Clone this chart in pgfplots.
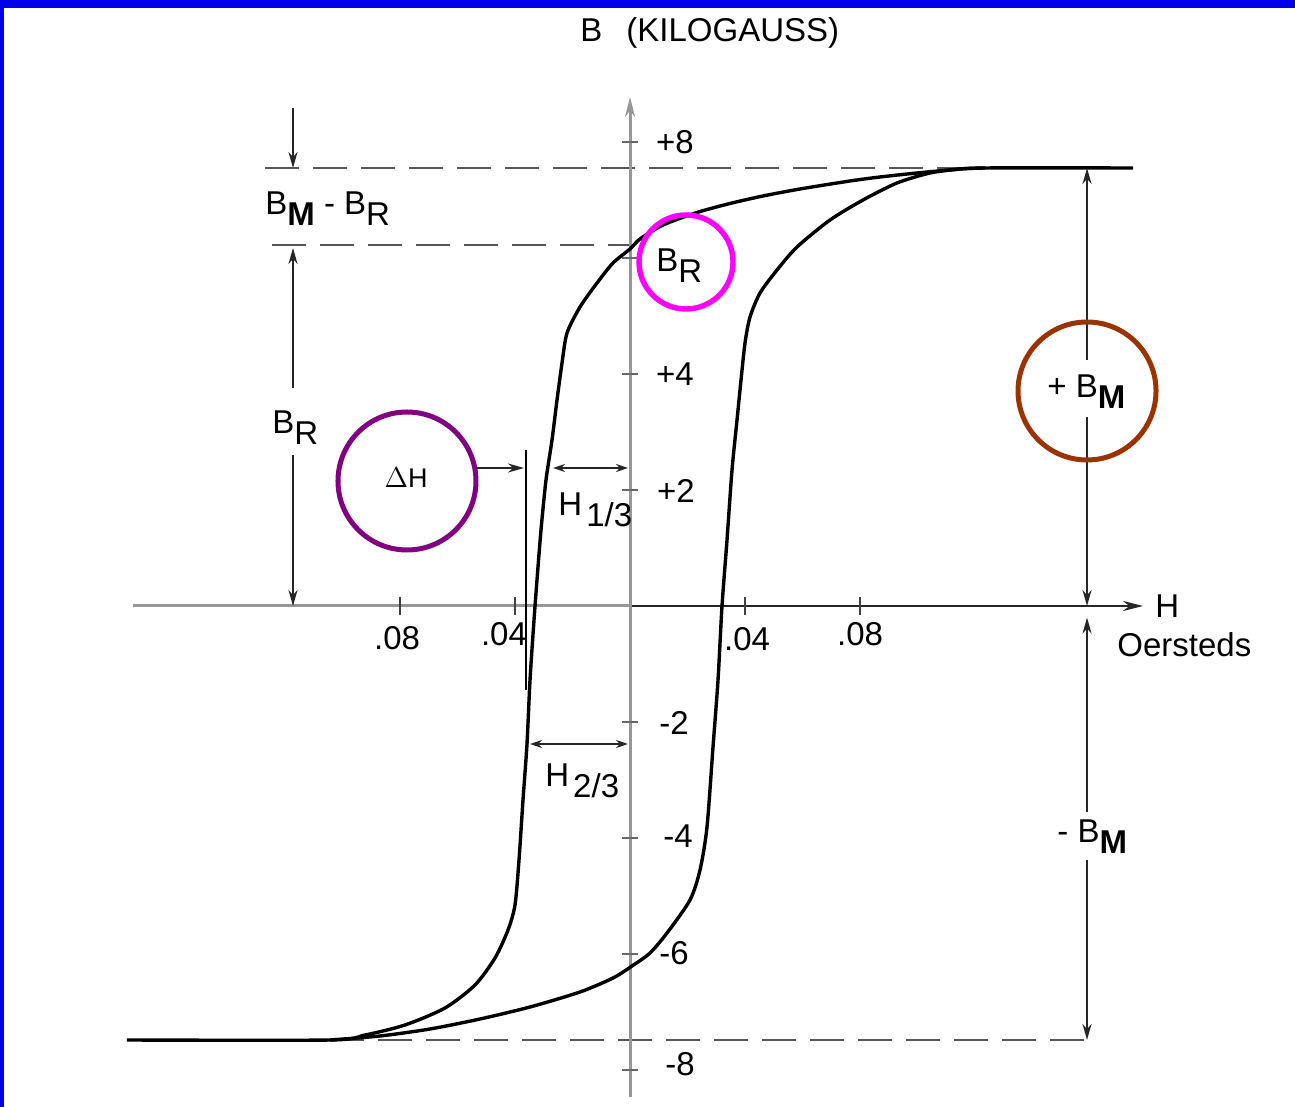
\documentclass[border=0pt]{standalone}
\usepackage{pgfplots}
\pgfplotsset{compat=1.18}
\usepackage{fontspec}
\setmainfont{Liberation Sans}
\usetikzlibrary{arrows.meta}

\definecolor{frameblue}{RGB}{0,0,235}
\definecolor{ringbrown}{RGB}{153,51,0}
\definecolor{ringpurple}{RGB}{128,0,128}
\definecolor{ringmagenta}{RGB}{255,0,255}
\definecolor{axisgray}{RGB}{150,150,150}
\definecolor{dashgray}{RGB}{85,85,85}

% lowered subscript at nearly full size, as in the drawing's lettering
\newcommand\lo[1]{\raisebox{-5.5pt}{#1}}

\begin{document}
\begin{tikzpicture}[
  dim/.style={line width=1.1pt, black!85},
  tip/.style={-{Stealth[length=8pt,width=4.5pt]}},
  tipb/.style={{Stealth[length=6pt,width=4pt]}-{Stealth[length=6pt,width=4pt]}},
  lbl/.style={font=\fontsize{16.5}{18}\selectfont, inner sep=0pt},
  dashln/.style={dashgray, line width=1.3pt, dash pattern=on 17pt off 7pt},
]
\begin{axis}[
  scale only axis, width=647.5pt, height=553.5pt,
  xmin=-0.21913, xmax=0.23130, ymin=-8.6379, ymax=10.4483,
  hide axis, clip=false,
]
% invisible box fixing the page to the plot area
\path (rel axis cs:0,0) rectangle (rel axis cs:1,1);
% blue bands along the top and left edges
\fill[frameblue] ([yshift=-4pt]rel axis cs:0,1) rectangle (rel axis cs:1,1);
\fill[frameblue] (rel axis cs:0,0) rectangle ([xshift=2pt]rel axis cs:0,1);

% dashed reference levels: +B_M, B_R, -B_M
\draw[dashln] (axis cs:-0.12696,7.5517) -- (axis cs:0.1200,7.5517);
\draw[dashln] (axis cs:-0.12452,6.2241) -- (axis cs:0,6.2241);
\draw[dashln] (axis cs:-0.10435,-7.4828) -- (axis cs:0.16174,-7.4828);

% H axis
\draw[axisgray, line width=1.5pt] (axis cs:-0.17287,0) -- (axis cs:0,0);
\draw[black!85, line width=1.2pt, -{Stealth[length=10pt,width=5pt]}] (axis cs:0,0) -- (axis cs:0.17843,0);
% B axis
\draw[axisgray, line width=1.5pt, -{Stealth[length=10pt,width=5pt]}] (axis cs:0,-8.4655) -- (axis cs:0,8.7759);

% B ticks
\pgfplotsinvokeforeach{8,6,4,2,-2,-4,-6,-8}{
  \draw[black!60, line width=1.4pt] (axis cs:-0.00278,#1) -- (axis cs:0.00278,#1);
}
% H ticks
\pgfplotsinvokeforeach{-0.08,-0.04,0.04,0.08}{
  \draw[black!75, line width=1.2pt] (axis cs:#1,0.155) -- (axis cs:#1,-0.155);
}

% tick labels
\node[lbl] at (axis cs:0.01565,8.0) {+8};
\node[lbl] at (axis cs:0.01565,4.0) {+4};
\node[lbl] at (axis cs:0.0160,1.9828) {+2};
\node[lbl] at (axis cs:0.0153,-2.0172) {-2};
\node[lbl] at (axis cs:0.0167,-3.9655) {-4};
\node[lbl] at (axis cs:0.0153,-5.9828) {-6};
\node[lbl] at (axis cs:0.0174,-7.8966) {-8};
\node[lbl] at (axis cs:-0.08104,-0.5517) {.08};
\node[lbl] at (axis cs:-0.04383,-0.4828) {.04};
\node[lbl] at (axis cs:0.0407,-0.5690) {.04};
\node[lbl] at (axis cs:0.0800,-0.4828) {.08};

% hysteresis loop: descending branch
\addplot[black, line width=1.7pt, smooth, tension=0.45] coordinates {
  (0.17496,7.5517) (0.12348,7.5517) (0.11130,7.5172) (0.09983,7.4655)
  (0.08696,7.3966) (0.07652,7.3276) (0.05913,7.1897) (0.04626,7.0690)
  (0.03478,6.9397) (0.02330,6.7845) (0.01148,6.5690) (0.00348,6.3276)
  (0,6.1552) (-0.00591,5.9138) (-0.01148,5.5690) (-0.01739,5.1552)
  (-0.02191,4.7069) (-0.02365,4.1897) (-0.02539,3.5517) (-0.02713,2.8621)
  (-0.02922,2.1724) (-0.03096,1.3103) (-0.03235,0.4483) (-0.03339,-0.2414)
  (-0.03478,-1.2759) (-0.03583,-2.3793) (-0.03722,-3.3448) (-0.03861,-4.3793)
  (-0.04000,-5.1552) (-0.04243,-5.5862) (-0.04696,-6.0690) (-0.05391,-6.5345)
  (-0.06435,-6.9310) (-0.07826,-7.2241) (-0.09217,-7.3966) (-0.10435,-7.4828)
  (-0.17496,-7.4828)
};
% ascending branch
\addplot[black, line width=1.7pt, smooth, tension=0.45] coordinates {
  (-0.10435,-7.4828) (-0.08696,-7.4138) (-0.06957,-7.2931) (-0.05217,-7.1207)
  (-0.03478,-6.9138) (-0.01739,-6.6552) (-0.00591,-6.4138) (0.00070,-6.2069)
  (0.00696,-5.9828) (0.01287,-5.6379) (0.02087,-5.0690) (0.02435,-4.5517)
  (0.02678,-3.8103) (0.02887,-2.4310) (0.03061,-1.2759) (0.03200,0)
  (0.03374,1.1379) (0.03548,2.3448) (0.03722,3.2069) (0.03861,3.8966)
  (0.04000,4.5345) (0.04174,4.9828) (0.04522,5.3966) (0.05113,5.7931)
  (0.05809,6.1897) (0.06957,6.6552) (0.08104,7.0000) (0.09287,7.2931)
  (0.10435,7.4655) (0.11478,7.5345) (0.12348,7.5517)
};

% left dimensions: B_M - B_R and B_R
\draw[dim, tip] (axis cs:-0.11722,8.5862) -- (axis cs:-0.11722,7.5517);
\draw[dim, tip] (axis cs:-0.11722,3.7586) -- (axis cs:-0.11722,6.1724);
\draw[dim, tip] (axis cs:-0.11722,2.6034) -- (axis cs:-0.11722,0);

% right dimension: +B_M and -B_M
\draw[dim, {Stealth[length=8pt,width=4.5pt]}-] (axis cs:0.15896,7.5517) -- (axis cs:0.15896,4.2414);
\draw[dim, tip] (axis cs:0.15896,3.2586) -- (axis cs:0.15896,0);
\draw[dim, tip] (axis cs:0.15896,-3.5517) -- (axis cs:0.15896,-0.20);
\draw[dim, tip] (axis cs:0.15896,-4.3793) -- (axis cs:0.15896,-7.4828);

% coercive-force markers
\draw[black, line width=1.3pt] (axis cs:-0.03617,2.6897) -- (axis cs:-0.03617,-1.4483);
\draw[dim, tip] (axis cs:-0.05357,2.3793) -- (axis cs:-0.03687,2.3793);
\draw[dim, tipb] (axis cs:-0.02678,2.3793) -- (axis cs:-0.0007,2.3793);
\draw[dim, tipb] (axis cs:-0.03478,-2.3793) -- (axis cs:-0.0007,-2.3793);

% rings
\draw[ringbrown, line width=2.5pt] (axis cs:0.15896,3.7069) circle[radius=34.5pt];
\draw[ringpurple, line width=2.5pt] (axis cs:-0.07757,2.1552) circle[radius=34.5pt];
\draw[ringmagenta, line width=2.7pt] (axis cs:0.01948,5.9310) circle[radius=23.5pt];

% labels
\node[lbl, anchor=base west] at (axis cs:-0.01739,9.7241) {B\hspace{12pt}(KILOGAUSS)};
\node[lbl, anchor=base west] at (axis cs:-0.12696,6.7414) {B\lo{\textbf{M}} - B\lo{R}};
\node[lbl, anchor=base west] at (axis cs:-0.12452,2.9655) {B\lo{R}};
\node[lbl, anchor=base west] at (axis cs:0.00904,5.7586) {B\lo{R}};
\node[lbl, font=\fontsize{13.5}{15}\selectfont] at (axis cs:-0.07791,2.2069) {$\Delta$H};
\node[lbl, anchor=base west] at (axis cs:-0.02504,1.5517) {H\hspace{2pt}\lo{1/3}};
\node[lbl, anchor=base west] at (axis cs:-0.02957,-3.1207) {H\hspace{2pt}\lo{2/3}};
\node[lbl, anchor=base west] at (axis cs:0.14504,3.5862) {+ B\lo{\textbf{M}}};
\node[lbl, anchor=base west] at (axis cs:0.14852,-4.0862) {- B\lo{\textbf{M}}};
\node[lbl, anchor=base west] at (axis cs:0.18261,-0.2069) {H};
\node[lbl, anchor=base west] at (axis cs:0.16939,-0.8793) {Oersteds};
\end{axis}
\end{tikzpicture}
\end{document}
